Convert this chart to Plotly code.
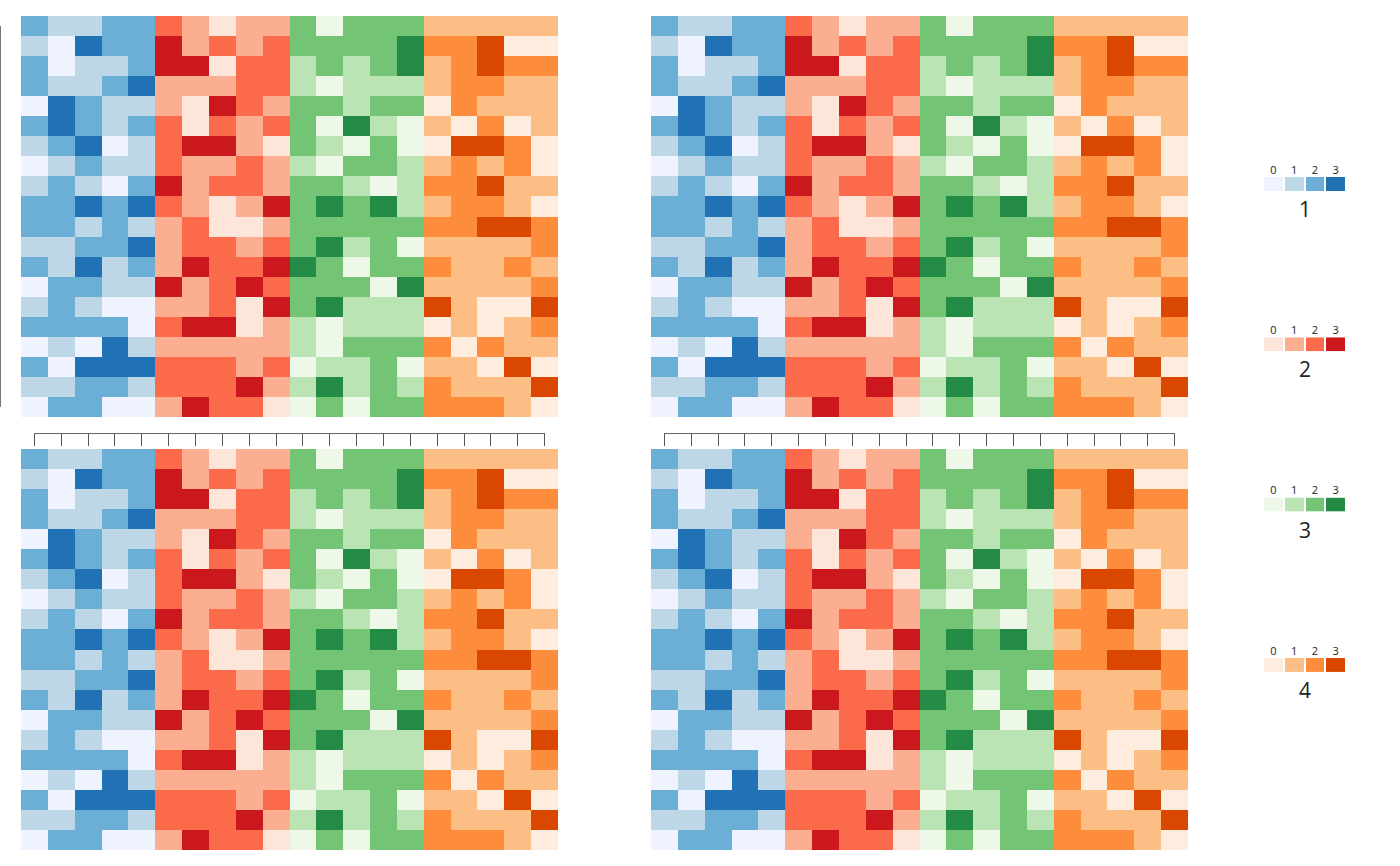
import plotly.graph_objects as go

W, H = 1400, 866

# values 0..3 per cell, 20 rows x 5 columns for each colour group
blues = [
    [2, 1, 1, 2, 2], [1, 0, 3, 2, 2], [2, 0, 1, 1, 2], [2, 1, 1, 2, 3],
    [0, 3, 2, 1, 1], [2, 3, 2, 1, 2], [1, 2, 3, 0, 1], [0, 1, 2, 1, 1],
    [1, 2, 1, 0, 2], [2, 2, 3, 2, 3], [2, 2, 1, 2, 1], [1, 1, 2, 2, 3],
    [2, 1, 3, 1, 2], [0, 2, 2, 1, 1], [1, 2, 1, 0, 0], [2, 2, 2, 2, 0],
    [0, 1, 0, 3, 1], [2, 0, 3, 3, 3], [1, 1, 2, 2, 1], [0, 2, 2, 0, 0],
]
reds = [
    [2, 1, 0, 1, 1], [3, 1, 2, 1, 2], [3, 3, 0, 2, 2], [1, 1, 1, 2, 2],
    [1, 0, 3, 2, 1], [2, 0, 2, 1, 2], [2, 3, 3, 1, 0], [2, 1, 1, 2, 1],
    [3, 1, 2, 2, 1], [2, 1, 0, 1, 3], [1, 2, 0, 0, 1], [1, 2, 2, 1, 2],
    [1, 3, 2, 2, 3], [3, 1, 2, 3, 2], [1, 1, 2, 0, 3], [2, 3, 3, 0, 1],
    [1, 1, 1, 1, 1], [2, 2, 2, 1, 2], [2, 2, 2, 3, 1], [1, 3, 2, 2, 0],
]
greens = [
    [2, 0, 2, 2, 2], [2, 2, 2, 2, 3], [1, 2, 1, 2, 3], [1, 0, 1, 1, 1],
    [2, 2, 1, 2, 2], [2, 0, 3, 1, 0], [2, 1, 0, 2, 0], [1, 0, 2, 2, 1],
    [2, 2, 1, 0, 1], [2, 3, 2, 3, 1], [2, 2, 2, 2, 2], [2, 3, 1, 2, 0],
    [3, 2, 0, 2, 2], [2, 2, 2, 0, 3], [2, 3, 1, 1, 1], [1, 0, 1, 1, 1],
    [1, 0, 2, 2, 2], [0, 1, 1, 2, 0], [1, 3, 1, 2, 1], [0, 2, 0, 2, 2],
]
oranges = [
    [1, 1, 1, 1, 1], [2, 2, 3, 0, 0], [1, 2, 3, 2, 2], [1, 2, 2, 1, 1],
    [0, 2, 1, 1, 1], [1, 0, 2, 0, 1], [0, 3, 3, 2, 0], [1, 2, 1, 2, 0],
    [2, 2, 3, 1, 1], [1, 2, 2, 1, 0], [2, 2, 3, 3, 2], [1, 1, 1, 1, 2],
    [2, 1, 1, 2, 1], [1, 1, 1, 1, 2], [3, 1, 0, 0, 3], [0, 1, 0, 1, 2],
    [2, 0, 2, 1, 1], [1, 1, 0, 3, 0], [2, 1, 1, 1, 3], [2, 2, 2, 1, 0],
]

groups = ['1', '2', '3', '4']
levels = [0, 1, 2, 3]
palettes = [
    ['#eff3ff', '#bdd7e7', '#6baed6', '#2171b5'],
    ['#fee5d9', '#fcae91', '#fb6a4a', '#cb181d'],
    ['#edf8e9', '#bae4b3', '#74c476', '#238b45'],
    ['#feedde', '#fdbe85', '#fd8d3c', '#d94701'],
]

n_rows = len(blues)
n_cols = 5 * len(groups)

# one code per cell: group * 4 + level
z = []
for r in range(n_rows):
    row = []
    for g, block in enumerate([blues, reds, greens, oranges]):
        row += [g * 4 + v for v in block[r]]
    z.append(row)


def discrete_scale(colors):
    n = len(colors)
    out = []
    for i, c in enumerate(colors):
        out += [[i / n, c], [(i + 1) / n, c]]
    return out


all_colors = [c for p in palettes for c in p]
main_scale = discrete_scale(all_colors)


def ax(n):
    return '' if n == 1 else str(n)


fig = go.Figure()
layout = {}

# panel boxes in pixels: left, right, top, bottom
panels = [(21, 558, 16, 417), (651, 1188, 16, 417),
          (21, 558, 449, 850), (651, 1188, 449, 850)]
axis_y = [433, 433, 865.5, 865.5]

for i, (x0, x1, y0, y1) in enumerate(panels):
    n = i + 1
    fig.add_trace(go.Heatmap(
        z=z, colorscale=main_scale, zmin=-0.5, zmax=len(all_colors) - 0.5,
        showscale=False, hoverinfo='skip',
        xaxis='x' + ax(n), yaxis='y' + ax(n)))
    layout['xaxis' + ax(n)] = dict(domain=[x0 / W, x1 / W], anchor='y' + ax(n),
                                   range=[-0.5, n_cols - 0.5], visible=False,
                                   automargin=False)
    layout['yaxis' + ax(n)] = dict(domain=[1 - y1 / H, 1 - y0 / H], anchor='x' + ax(n),
                                   range=[n_rows - 0.5, -0.5], visible=False,
                                   automargin=False)

    # thin tick axes running between the first and last cell centres
    m = n + 4
    cw = (x1 - x0) / n_cols
    rh = (y1 - y0) / n_rows
    fig.add_trace(go.Scatter(x=[None], y=[None], xaxis='x' + ax(m), yaxis='y' + ax(m),
                             showlegend=False, hoverinfo='skip'))
    layout['xaxis' + ax(m)] = dict(
        domain=[(x0 + cw / 2) / W, (x1 - cw / 2) / W], anchor='free',
        position=1 - axis_y[i] / H, range=[0, n_cols - 1],
        tickvals=list(range(n_cols)), ticks='outside', ticklen=12, tickwidth=1,
        tickcolor='#555', showline=True, linecolor='#666', linewidth=1,
        showticklabels=False, showgrid=False, zeroline=False, automargin=False)
    layout['yaxis' + ax(m)] = dict(
        domain=[1 - (y1 - rh / 2) / H, 1 - (y0 + rh / 2) / H], anchor='free',
        position=0, range=[n_rows - 1, 0],
        tickvals=list(range(n_rows)), ticks='outside', ticklen=6, tickwidth=1,
        tickcolor='#555', showline=True, linecolor='#777', linewidth=1.5,
        showticklabels=False, showgrid=False, zeroline=False, automargin=False,
        visible=(n == 1))

# small legends on the right
annotations = []
for k, g in enumerate(groups):
    n = 9 + k
    sy = 177 + 160.3 * k
    fig.add_trace(go.Heatmap(
        z=[levels], x=levels, colorscale=discrete_scale(palettes[k]),
        zmin=-0.5, zmax=3.5, xgap=2, showscale=False, hoverinfo='skip',
        xaxis='x' + ax(n), yaxis='y' + ax(n)))
    layout['xaxis' + ax(n)] = dict(
        domain=[1263 / W, 1346 / W], anchor='y' + ax(n), side='top',
        range=[-0.5, 3.5], tickvals=levels, ticktext=[str(v) for v in levels],
        ticks='', ticklen=0, showline=False, showgrid=False, zeroline=False,
        tickfont=dict(size=11, color='#222'), automargin=False)
    layout['yaxis' + ax(n)] = dict(domain=[1 - (sy + 14) / H, 1 - sy / H],
                                   anchor='x' + ax(n), visible=False, automargin=False)
    annotations.append(dict(text=g, x=1304.5 / W, y=1 - (sy + 32) / H,
                            xref='paper', yref='paper', showarrow=False,
                            xanchor='center', yanchor='middle',
                            font=dict(size=21, color='#222')))

fig.update_layout(**layout)
fig.update_layout(
    width=W, height=H, margin=dict(l=0, r=0, t=0, b=0),
    paper_bgcolor='white', plot_bgcolor='rgba(0,0,0,0)',
    font=dict(family='Open Sans', color='#222'),
    showlegend=False, annotations=annotations)

fig.write_html('out.html', config={'displayModeBar': False},
               post_script="document.body.style.margin='0';")
